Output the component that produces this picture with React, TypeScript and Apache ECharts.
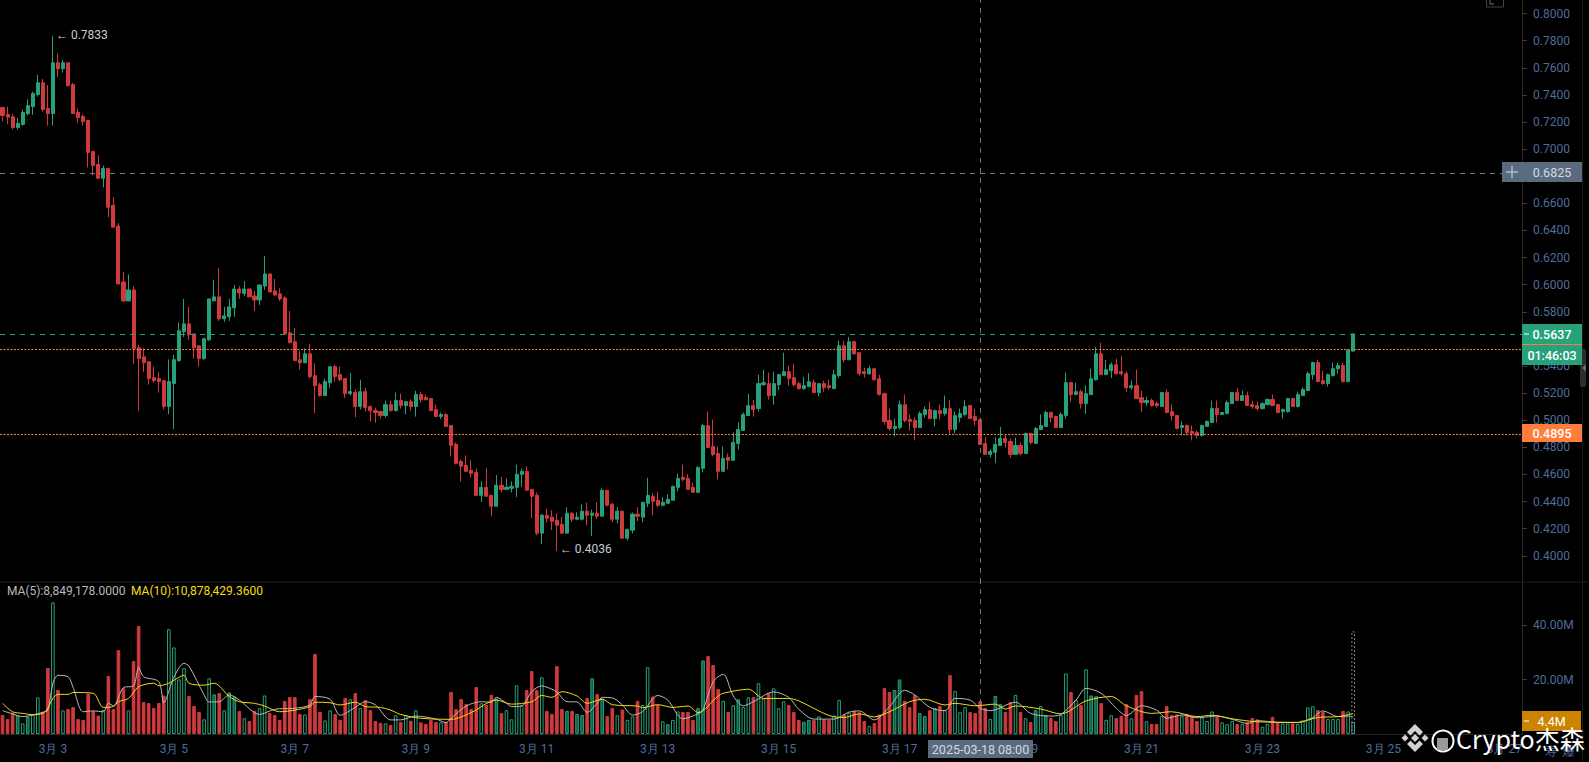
import React, { useEffect, useRef } from "react";
import * as echarts from "echarts";

// each row: open, close, high, low
const candleRows: number[][] = [
[.7307,.7248,.7307,.7204],[.7255,.7236,.7314,.7184],[.7238,.7160,.7260,.7145],[.7160,.7189,.7228,.7145],[.7182,.7270,.7292,.7174],
[.7262,.7321,.7368,.7248],[.7314,.7410,.7424,.7253],[.7402,.7490,.7549,.7387],[.7490,.7292,.7517,.7277],[.7299,.7262,.7473,.7174],
[.7262,.7637,.7833,.7174],[.7637,.7593,.7706,.7532],[.7593,.7637,.7657,.7564],[.7637,.7468,.7637,.7461],[.7476,.7262,.7488,.7262],
[.7270,.7233,.7299,.7196],[.7240,.7204,.7255,.7174],[.7211,.6976,.7216,.6865],[.6983,.6880,.6986,.6807],[.6887,.6785,.6954,.6785],
[.6785,.6858,.6880,.6718],[.6858,.6571,.6858,.6498],[.6586,.6424,.6645,.6424],[.6432,.6005,.6454,.6005],[.6020,.5880,.6093,.5873],
[.5880,.5961,.6076,.5880],[.5961,.5527,.5990,.5417],[.5535,.5454,.5557,.5071],[.5468,.5424,.5532,.5358],[.5432,.5307,.5432,.5262],
[.5314,.5292,.5395,.5277],[.5307,.5285,.5358,.5204],[.5292,.5101,.5292,.5079],[.5101,.5285,.5449,.5044],[.5270,.5447,.5483,.4934],
[.5439,.5660,.5721,.5432],[.5652,.5711,.5895,.5615],[.5711,.5630,.5836,.5593],[.5637,.5534,.5637,.5454],[.5549,.5454,.5549,.5395],
[.5454,.5601,.5608,.5446],[.5593,.5895,.5895,.5586],[.5880,.5910,.6037,.5880],[.5910,.5748,.6123,.5733],[.5748,.5770,.5836,.5726],
[.5763,.5836,.5895,.5733],[.5829,.5968,.5998,.5763],[.5968,.5939,.5990,.5895],[.5936,.5968,.6027,.5917],[.5968,.5910,.5968,.5910],
[.5917,.5887,.5954,.5807],[.5887,.5998,.5998,.5851],[.5990,.6079,.6213,.5961],[.6079,.5946,.6084,.5946],[.5954,.5924,.6042,.5917],
[.5932,.5895,.5973,.5880],[.5902,.5637,.5917,.5637],[.5645,.5571,.5806,.5571],[.5579,.5439,.5679,.5439],[.5446,.5424,.5513,.5373],
[.5424,.5490,.5532,.5424],[.5490,.5321,.5561,.5307],[.5329,.5255,.5419,.5052],[.5262,.5182,.5277,.5174],[.5182,.5285,.5307,.5182],
[.5277,.5395,.5395,.5238],[.5395,.5321,.5410,.5285],[.5336,.5299,.5395,.5285],[.5307,.5196,.5307,.5164],[.5196,.5211,.5348,.5182],
[.5204,.5101,.5226,.5022],[.5101,.5211,.5299,.5079],[.5211,.5093,.5240,.5064],[.5101,.5071,.5108,.4990],[.5071,.5057,.5093,.4981],
[.5064,.5035,.5071,.5013],[.5035,.5115,.5145,.5020],[.5115,.5071,.5145,.5064],[.5071,.5145,.5204,.5064],[.5145,.5108,.5196,.5086],
[.5108,.5137,.5137,.5044],[.5137,.5101,.5152,.5071],[.5101,.5189,.5218,.5027],[.5189,.5152,.5211,.5130],[.5167,.5152,.5189,.5145],
[.5160,.5071,.5160,.5071],[.5079,.5027,.5115,.5027],[.5027,.5042,.5057,.5008],[.5042,.4954,.5052,.4954],[.4961,.4814,.4961,.4733],
[.4821,.4682,.4836,.4674],[.4696,.4660,.4711,.4547],[.4667,.4623,.4740,.4623],[.4630,.4608,.4704,.4579],[.4615,.4446,.4645,.4439],
[.4446,.4505,.4549,.4397],[.4505,.4439,.4645,.4439],[.4446,.4365,.4446,.4292],[.4365,.4520,.4596,.4365],[.4520,.4490,.4581,.4468],
[.4490,.4505,.4571,.4490],[.4498,.4512,.4549,.4468],[.4505,.4601,.4672,.4434],[.4601,.4623,.4642,.4508],[.4623,.4483,.4660,.4483],
[.4490,.4439,.4490,.4277],[.4446,.4167,.4466,.4152],[.4167,.4299,.4307,.4086],[.4299,.4277,.4346,.4243],[.4285,.4255,.4336,.4189],
[.4262,.4226,.4314,.4036],[.4233,.4167,.4287,.4167],[.4167,.4314,.4358,.4167],[.4314,.4270,.4321,.4248],[.4270,.4285,.4321,.4262],
[.4270,.4329,.4380,.4262],[.4329,.4299,.4392,.4226],[.4299,.4314,.4341,.4147],[.4314,.4292,.4395,.4270],[.4292,.4483,.4498,.4292],
[.4483,.4373,.4483,.4365],[.4380,.4270,.4390,.4248],[.4270,.4329,.4360,.4240],[.4329,.4130,.4329,.4130],[.4130,.4196,.4196,.4113],
[.4189,.4307,.4319,.4167],[.4307,.4292,.4358,.4255],[.4285,.4395,.4395,.4248],[.4387,.4446,.4576,.4360],[.4439,.4402,.4461,.4299],
[.4410,.4373,.4468,.4360],[.4373,.4395,.4432,.4365],[.4387,.4417,.4454,.4387],[.4410,.4512,.4517,.4410],[.4505,.4571,.4606,.4476],
[.4579,.4564,.4672,.4549],[.4571,.4490,.4601,.4490],[.4505,.4468,.4539,.4468],[.4468,.4652,.4660,.4461],[.4645,.4961,.4973,.4615],
[.4961,.4799,.5064,.4799],[.4807,.4748,.5005,.4733],[.4755,.4623,.4807,.4564],[.4623,.4718,.4807,.4623],[.4726,.4704,.4755,.4637],
[.4704,.4836,.4910,.4704],[.4829,.4932,.4985,.4785],[.4924,.5042,.5057,.4924],[.5035,.5108,.5196,.5035],[.5108,.5079,.5150,.5027],
[.5086,.5270,.5336,.5064],[.5262,.5277,.5370,.5255],[.5270,.5182,.5351,.5152],[.5182,.5270,.5358,.5115],[.5262,.5336,.5343,.5223],
[.5329,.5358,.5498,.5329],[.5358,.5307,.5402,.5255],[.5314,.5262,.5417,.5248],[.5270,.5233,.5284,.5226],[.5233,.5255,.5321,.5226],
[.5248,.5284,.5348,.5248],[.5277,.5204,.5299,.5204],[.5204,.5270,.5270,.5177],[.5270,.5240,.5292,.5211],[.5255,.5240,.5299,.5226],
[.5233,.5336,.5373,.5233],[.5329,.5549,.5586,.5314],[.5549,.5446,.5586,.5424],[.5446,.5579,.5615,.5446],[.5579,.5490,.5586,.5483],
[.5498,.5343,.5498,.5329],[.5358,.5343,.5387,.5314],[.5343,.5380,.5402,.5336],[.5380,.5299,.5380,.5292],[.5306,.5189,.5336,.5182],
[.5196,.4990,.5204,.4968],[.4998,.4939,.5086,.4924],[.4939,.4954,.5012,.4880],[.4946,.5115,.5145,.4931],[.5115,.4998,.5189,.4983],
[.5005,.4990,.5042,.4924],[.4998,.4946,.5022,.4851],[.4946,.5049,.5064,.4946],[.5042,.5079,.5101,.5020],[.5079,.5012,.5137,.5012],
[.5012,.5071,.5079,.4954],[.5071,.5049,.5115,.5005],[.5049,.5086,.5182,.5034],[.5086,.4932,.5150,.4895],[.4932,.5034,.5064,.4902],
[.5020,.5049,.5086,.4983],[.5042,.5101,.5150,.5027],[.5108,.5012,.5115,.5012],[.5027,.4998,.5083,.4961],[.5005,.4821,.5005,.4821],
[.4829,.4748,.4875,.4748],[.4748,.4770,.4785,.4726],[.4763,.4821,.4873,.4684],[.4814,.4865,.4951,.4814],[.4865,.4836,.4890,.4799],
[.4843,.4748,.4865,.4723],[.4748,.4814,.4873,.4748],[.4814,.4755,.4836,.4740],[.4755,.4902,.4909,.4755],[.4902,.4836,.4902,.4821],
[.4829,.4939,.4949,.4829],[.4931,.4961,.5042,.4931],[.4954,.5057,.5071,.4954],[.5057,.5020,.5064,.4983],[.5027,.4946,.5034,.4946],
[.4946,.5042,.5057,.4946],[.5034,.5277,.5353,.5012],[.5277,.5189,.5284,.5137],[.5189,.5211,.5277,.5189],[.5211,.5123,.5226,.5086],
[.5123,.5196,.5255,.5047],[.5189,.5306,.5380,.5189],[.5299,.5490,.5542,.5292],[.5490,.5336,.5571,.5336],[.5336,.5373,.5446,.5336],
[.5365,.5409,.5427,.5311],[.5409,.5343,.5454,.5336],[.5358,.5343,.5476,.5329],[.5343,.5240,.5360,.5211],[.5240,.5255,.5294,.5226],
[.5255,.5159,.5373,.5159],[.5167,.5130,.5218,.5061],[.5130,.5145,.5174,.5108],[.5145,.5108,.5160,.5101],[.5123,.5108,.5138,.5094],
[.5101,.5204,.5204,.5101],[.5204,.5057,.5226,.5050],[.5064,.5035,.5116,.4998],[.5035,.4939,.5035,.4932],[.4947,.4961,.4991,.4888],
[.4961,.4910,.4969,.4888],[.4917,.4903,.4961,.4851],[.4910,.4888,.4925,.4866],[.4888,.4961,.4969,.4880],[.4954,.4991,.4998,.4954],
[.4983,.5086,.5145,.4983],[.5086,.5042,.5145,.4983],[.5042,.5057,.5057,.5042],[.5050,.5131,.5145,.5042],[.5123,.5204,.5204,.5123],
[.5204,.5145,.5236,.5145],[.5145,.5182,.5219,.5145],[.5182,.5108,.5211,.5108],[.5116,.5101,.5145,.5086],[.5108,.5086,.5138,.5072],
[.5086,.5123,.5131,.5079],[.5116,.5153,.5160,.5108],[.5153,.5108,.5189,.5108],[.5116,.5057,.5116,.5050],[.5064,.5079,.5086,.5013],
[.5064,.5160,.5160,.5057],[.5160,.5101,.5167,.5101],[.5101,.5189,.5211,.5094],[.5182,.5226,.5241,.5182],[.5219,.5344,.5358,.5219],
[.5336,.5425,.5432,.5300],[.5425,.5285,.5447,.5285],[.5292,.5270,.5366,.5263],[.5270,.5336,.5344,.5248],[.5329,.5380,.5425,.5322],
[.5380,.5403,.5425,.5344],[.5403,.5285,.5425,.5278],[.5285,.5518,.5518,.5285],[.5510,.5637,.5637,.5510],
];

// volume in millions, one per candle
const volumes: number[] = [
7.0,5.5,7.9,6.8,3.9,6.4,7.0,13.5,8.2,24.3,48.5,16.2,8.7,9.2,9.9,5.5,5.2,14.9,8.5,6.8,
8.8,21.4,9.2,30.9,16.9,8.7,26.9,39.8,11.8,11.4,9.6,11.4,14.2,38.6,31.9,20.1,24.2,14.0,10.3,8.1,
5.4,20.5,14.6,15.1,8.7,15.3,13.8,8.5,5.8,4.8,8.5,9.5,14.2,7.7,7.0,5.2,12.2,13.6,13.6,7.4,
7.2,12.9,29.5,8.1,5.0,8.7,7.4,5.2,13.3,12.8,15.1,9.6,12.5,8.8,4.8,4.1,3.9,3.3,6.9,4.5,
7.0,4.9,8.7,4.3,3.7,5.2,4.4,4.3,4.5,15.5,9.2,12.9,11.0,9.2,17.3,11.3,10.7,14.4,13.1,7.7,
8.7,5.4,17.9,10.7,16.2,23.2,16.2,20.9,8.5,7.4,25.0,9.2,8.5,8.5,7.4,7.0,13.3,20.5,14.7,13.1,
6.6,9.6,6.9,9.0,5.2,6.5,12.2,10.7,24.6,13.8,10.7,4.7,3.6,5.2,8.3,8.1,8.1,5.2,9.5,27.1,
28.7,25.4,16.6,12.2,8.1,10.6,12.8,9.9,13.5,13.6,18.7,13.1,15.0,16.8,9.5,12.0,10.7,8.1,5.2,4.5,
5.2,5.2,6.5,5.4,5.2,6.8,12.5,7.2,7.9,8.5,8.0,4.8,2.9,4.1,7.2,16.9,15.5,16.2,20.1,12.2,
9.9,14.4,7.7,6.6,8.8,9.5,10.3,8.8,21.7,15.8,8.0,9.9,8.1,7.7,12.2,9.6,5.5,14.0,11.0,8.1,
11.8,14.4,8.1,5.8,4.4,8.8,10.3,7.0,5.9,4.8,7.0,22.3,15.5,12.5,10.7,23.8,14.2,13.9,11.4,5.2,
6.9,5.9,6.6,11.0,5.8,14.4,15.8,4.7,3.7,3.7,6.6,10.3,7.0,7.2,6.6,7.4,6.6,4.8,6.1,4.8,
8.3,6.4,4.3,3.6,4.8,3.7,3.7,4.3,5.9,5.4,2.7,3.7,6.3,4.2,3.9,3.9,3.9,3.7,5.0,9.8,
10.2,8.8,8.1,5.5,5.5,5.5,8.5,8.3,4.4,
];

const estimatedVolume = 37.8;
const darkFilledBars = [3,5,42,45,46,98,112,114,115,117,119,132,138,139,146,159,160,177,178,182,183,185,197,198,205,207,216,217];

// [candle index, value in millions]
const ma5Points: number[][] = [
[0,8.6],[2,7.4],[4,6.4],[6,7.0],[8,8.0],[9,8.8],[10,18.7],[11,21.6],[13,21.1],[14,17.2],[16,8.2],[18,8.5],[20,8.2],[21,11.3],[22,10.4],[24,17.1],[26,17.7],[27,24.6],[28,21.1],[31,19.3],[32,11.5],[34,20.9],[36,26.0],[37,25.0],[40,14.4],[41,11.8],[43,11.9],[45,14.4],[47,12.5],[51,7.2],[54,9.1],[58,9.5],[61,10.7],[62,13.8],[65,12.8],[67,6.9],[70,9.8],[72,11.9],[74,10.7],[77,5.2],
[79,5.2],[82,6.6],[86,5.5],[88,4.2],[89,5.8],[92,10.3],[95,11.9],[97,11.7],[98,13.5],[100,11.3],[101,10.1],[103,10.3],[105,15.6],[107,17.7],[109,16.5],[110,15.5],[112,11.9],[114,11.8],[116,8.0],[118,11.3],[119,13.5],[121,13.3],[123,10.7],[125,7.0],[127,8.2],[130,14.2],[132,12.5],[135,5.6],[138,7.4],[139,8.8],[141,19.3],[143,22.0],[145,14.0],[147,10.4],[149,11.9],[153,15.5],[156,13.5],[158,9.1],
[161,5.5],[165,5.5],[168,8.1],[170,8.5],[173,5.2],[176,10.1],[179,16.1],[181,14.4],[184,9.8],[187,8.6],[189,13.1],[192,12.5],[194,9.5],[196,8.6],[201,11.7],[204,7.6],[208,6.6],[210,7.2],[213,12.5],[215,16.8],[218,15.0],[221,9.5],[223,6.8],[226,10.4],[229,8.8],[231,5.8],[234,7.0],[237,6.0],
[238,6.1],[241,6.6],[244,5.4],[247,3.9],[249,4.9],[253,4.3],[257,4.2],[260,6.1],[262,8.5],[265,6.4],[267,6.6],[268,6.4],
];
const ma10Points: number[][] = [
[0,11.3],[2,8.2],[4,7.6],[6,7.1],[8,7.6],[9,9.5],[10,13.1],[11,14.6],[13,14.6],[14,15.3],[18,15.0],[20,9.8],[22,10.1],[23,11.9],[25,13.1],[27,17.4],[30,18.7],[31,17.8],[33,18.7],[36,21.6],[37,18.7],[40,18.0],[42,18.7],[45,13.8],[47,11.9],[50,11.3],[52,10.3],[55,8.2],[58,8.8],[61,10.1],[62,11.7],[65,11.5],[67,10.7],[70,11.7],[72,10.1],[75,9.8],[77,8.8],
[79,7.2],[83,5.8],[89,5.4],[93,7.9],[98,12.5],[101,11.0],[105,11.9],[107,14.2],[109,13.5],[111,15.6],[114,14.0],[116,11.3],[119,12.8],[121,10.8],[126,10.3],[127,9.7],[130,10.8],[133,9.8],[136,10.3],[138,7.9],[142,14.0],[143,15.0],[148,16.5],[151,13.1],[156,13.1],[158,12.2],
[164,6.8],[167,6.1],[170,7.4],[173,6.3],[176,8.2],[180,11.9],[183,12.8],[187,10.7],[189,11.3],[193,10.4],[197,11.0],[199,9.2],[201,10.3],[206,9.2],[210,7.4],[215,12.2],[220,13.8],[223,10.4],[228,7.6],[232,8.2],[237,6.4],
[240,6.9],[244,5.6],[249,4.5],[257,4.3],[261,6.1],[265,6.4],[268,7.6],
];

const priceTicks = [0.40,0.42,0.44,0.46,0.48,0.50,0.52,0.54,0.56,0.58,0.60,0.62,0.64,0.66,0.68,0.70,0.72,0.74,0.76,0.78,0.80];
const volumeTicks = [20, 40];
const dateTickLabels = ["3月 3","3月 5","3月 7","3月 9","3月 11","3月 13","3月 15","3月 17","3月 19","3月 21","3月 23","3月 25","3月 27"];

const FIRST_TICK = 10;
const TICK_STEP = 24;
const SLOTS = 302;
const CROSS_INDEX = 194;
const CROSS_PRICE = 0.6825;
const LAST_PRICE = 0.5637;
const UPPER_ALERT = 0.552;
const LOWER_ALERT = 0.4895;

const GREEN = "#26a17b";
const RED = "#cf3a3d";
const ORANGE = "#ff7d3b";
const AXIS_TEXT = "#4f6c9c";
const GRID_LINE = "#262626";
const SLATE = "#5b6b7f";
const CROSS = "#6f7a8c";
const FONT = 'Roboto, "Liberation Sans", Arial, sans-serif';

const categories: string[] = Array.from({ length: SLOTS }, (_, i) =>
  new Date(Date.UTC(2025, 2, 2, 4) + i * 7200000).toISOString()
);

function tag(x: number, y: number, w: number, h: number, fill: string, text: string, color = "#fff", weight: any = 500) {
  return [
    { type: "rect", z: 100, shape: { x, y, width: w, height: h }, style: { fill } },
    {
      type: "text", z: 101, x: x + w / 2, y: y + h / 2,
      style: { text, fill: color, font: `${weight} 12.5px ${FONT}`, textAlign: "center", textVerticalAlign: "middle" },
    },
  ];
}

function chevrons(cx: number, cy: number) {
  const c = "#d2d2d2";
  const poly = (pts: number[][]) => ({
    type: "polygon", z: 110, shape: { points: pts.map(([a, b]) => [cx + a, cy + b]) }, style: { fill: c },
  });
  return [
    poly([[0,-14],[8,-6],[4.5,-2.5],[0,-7],[-4.5,-2.5],[-8,-6]]),
    poly([[0,14],[8,6],[4.5,2.5],[0,7],[-4.5,2.5],[-8,6]]),
    poly([[0,-4],[4,0],[0,4],[-4,0]]),
    poly([[-10,-3.5],[-6.5,0],[-10,3.5],[-13.5,0]]),
    poly([[10,-3.5],[13.5,0],[10,3.5],[6.5,0]]),
  ];
}

export default function App() {
  const ref = useRef<HTMLDivElement>(null);
  useEffect(() => {
    document.body.style.margin = "0";
    document.body.style.background = "#000";
    const chart = echarts.init(ref.current!, undefined, { renderer: "svg" });
    const volumeData = volumes.map((v, i) => {
      const r = candleRows[i];
      const up = r[1] >= r[0];
      return {
        value: v,
        itemStyle: up
          ? { color: darkFilledBars.includes(i) ? "#0f5c47" : "#000", borderColor: GREEN, borderWidth: 1 }
          : { color: RED, borderColor: RED, borderWidth: 1 },
      };
    });
    const option: any = {
      animation: false,
      backgroundColor: "#000",
      textStyle: { fontFamily: FONT },
      tooltip: { show: false },
      grid: [
        { left: 0, width: 1522, top: -1.9, height: 584.8 },
        { left: 0, width: 1522, top: 582, height: 152 },
      ],
      xAxis: [
        {
          type: "category", gridIndex: 0, data: categories, boundaryGap: true,
          axisLine: { show: false }, axisTick: { show: false }, axisLabel: { show: false }, splitLine: { show: false },
        },
        {
          type: "category", gridIndex: 1, data: categories, boundaryGap: true, offset: 4,
          axisLine: { show: true, lineStyle: { color: GRID_LINE } },
          axisTick: { show: false },
          splitLine: { show: false },
          axisLabel: {
            show: true, color: AXIS_TEXT, fontSize: 12, margin: 5, fontFamily: FONT, hideOverlap: false,
            interval: (i: number) => i >= FIRST_TICK && (i - FIRST_TICK) % TICK_STEP === 0,
            formatter: (_: string, i: number) => dateTickLabels[(i - FIRST_TICK) / TICK_STEP] ?? "",
          },
        },
      ],
      yAxis: [
        {
          type: "value", gridIndex: 0, position: "right", min: 0.38, max: 0.81, scale: true,
          splitLine: { show: false },
          axisLine: { show: true, onZero: false, lineStyle: { color: GRID_LINE } },
          axisTick: { show: true, length: 5, inside: false, customValues: priceTicks, lineStyle: { color: "#3a3a3a" } },
          axisLabel: {
            show: true, color: AXIS_TEXT, fontSize: 12, margin: 11, fontFamily: FONT,
            customValues: priceTicks, formatter: (v: number) => v.toFixed(4),
          },
        },
        {
          type: "value", gridIndex: 1, position: "right", min: 0, max: 56,
          splitLine: { show: false },
          axisLine: { show: true, onZero: false, lineStyle: { color: GRID_LINE } },
          axisTick: { show: true, length: 5, customValues: volumeTicks, lineStyle: { color: "#3a3a3a" } },
          axisLabel: {
            show: true, color: AXIS_TEXT, fontSize: 12, margin: 11, fontFamily: FONT,
            customValues: volumeTicks, formatter: (v: number) => v.toFixed(2) + "M",
          },
        },
      ],
      series: [
        {
          type: "candlestick", name: "price", xAxisIndex: 0, yAxisIndex: 0, barWidth: 3.6,
          data: candleRows.map(([o, c, h, l]) => [o, c, l, h]),
          itemStyle: { color: GREEN, color0: RED, borderColor: GREEN, borderColor0: RED, borderWidth: 1 },
          markLine: {
            silent: true, symbol: "none", animation: false, label: { show: false }, precision: 4,
            data: [
              { yAxis: CROSS_PRICE, lineStyle: { color: CROSS, type: [5, 5], width: 1 } },
              { yAxis: LAST_PRICE, lineStyle: { color: GREEN, type: [5, 5], width: 1 } },
              { yAxis: UPPER_ALERT, lineStyle: { color: ORANGE, type: [2, 1.5], width: 1 } },
              { yAxis: LOWER_ALERT, lineStyle: { color: ORANGE, type: [2, 1.5], width: 1 } },
              { xAxis: categories[CROSS_INDEX], lineStyle: { color: CROSS, type: [5, 5], width: 1 } },
            ],
          },
          markPoint: {
            silent: true, symbol: "circle", symbolSize: 0,
            label: { show: true, position: "right", distance: 3, offset: [0, -1.5], color: "#c5ccd6", fontSize: 12, fontFamily: FONT },
            data: [
              { coord: [categories[10], 0.7833], label: { formatter: "← 0.7833" } },
              { coord: [categories[110], 0.4036], label: { formatter: "← 0.4036" } },
            ],
          },
        },
        {
          type: "bar", name: "volume", xAxisIndex: 1, yAxisIndex: 1, barWidth: 3.6, barGap: "-100%", data: volumeData,
          markLine: {
            silent: true, symbol: "none", label: { show: false },
            data: [{ xAxis: categories[CROSS_INDEX], lineStyle: { color: CROSS, type: [5, 5], width: 1 } }],
          },
        },
        {
          type: "bar", name: "estimated", xAxisIndex: 1, yAxisIndex: 1, barWidth: 3.6, barGap: "-100%",
          data: volumes.map((_, i) => (i === volumes.length - 1 ? estimatedVolume : null)),
          itemStyle: { color: "rgba(0,0,0,0)", borderColor: "#8a8a8a", borderWidth: 1, borderType: [2, 2] },
        },
        {
          type: "line", name: "MA5", xAxisIndex: 1, yAxisIndex: 1, data: ma5Points, showSymbol: false, smooth: 0.3,
          lineStyle: { color: "#b9b9b9", width: 1 }, z: 5,
        },
        {
          type: "line", name: "MA10", xAxisIndex: 1, yAxisIndex: 1, data: ma10Points, showSymbol: false, smooth: 0.3,
          lineStyle: { color: "#f2dc14", width: 1 }, z: 6,
        },
      ],
      graphic: [
        { type: "line", z: 3, shape: { x1: 0, y1: 582, x2: 1589, y2: 582 }, style: { stroke: "#1e1e1e", lineWidth: 1 } },
        { type: "line", z: 3, shape: { x1: 1582.5, y1: 0, x2: 1582.5, y2: 762 }, style: { stroke: "#1c1c1c", lineWidth: 1 } },
        { type: "rect", z: 3, shape: { x: 1486.5, y: -3, width: 17, height: 10 }, style: { fill: "#000", stroke: "#3c4450", lineWidth: 1 } },
        { type: "polyline", z: 3, shape: { points: [[1490, 0], [1490, 4], [1494, 4]] }, style: { fill: "none", stroke: "#6a7382", lineWidth: 1 } },
        { type: "rect", z: 90, shape: { x: 1580, y: 349, width: 6, height: 38, r: 2 }, style: { fill: "#2b2d30" } },
        { type: "polygon", z: 91, shape: { points: [[1582.5, 368], [1585.5, 364.5], [1585.5, 371.5]] }, style: { fill: "#7a7f86" } },
        ...tag(1522, 324, 60, 20, GREEN, "0.5637"),
        { type: "rect", z: 100, shape: { x: 1522, y: 344, width: 60, height: 1.5 }, style: { fill: ORANGE } },
        ...tag(1522, 345, 60, 20, GREEN, "01:46:03"),
        ...tag(1522, 424, 60, 18, ORANGE, "0.4895"),
        ...tag(1522, 162, 60, 20, SLATE, "0.6825", "#d4d9e0", 400),
        { type: "rect", z: 100, shape: { x: 1502, y: 162, width: 20, height: 20 }, style: { fill: SLATE } },
        { type: "line", z: 101, shape: { x1: 1506, y1: 172, x2: 1518, y2: 172 }, style: { stroke: "#d4d9e0", lineWidth: 1 } },
        { type: "line", z: 101, shape: { x1: 1512, y1: 166, x2: 1512, y2: 178 }, style: { stroke: "#d4d9e0", lineWidth: 1 } },
        ...tag(928, 740, 105, 18, SLATE, "2025-03-18 08:00", "#d4d9e0", 400),
        ...tag(1522, 711, 59, 20, "#cc8400", "4.4M", "#fff", 400),
        { type: "line", z: 102, shape: { x1: 1524, y1: 721, x2: 1529, y2: 721 }, style: { stroke: "#fff", lineWidth: 1 } },
        { type: "line", z: 102, shape: { x1: 1524, y1: 334, x2: 1529, y2: 334 }, style: { stroke: "#fff", lineWidth: 1 } },
        { type: "text", z: 60, x: 7, y: 590.5, style: { text: "MA(5):8,849,178.0000", fill: "#b9b9b9", font: `12px ${FONT}`, textVerticalAlign: "middle" } },
        { type: "text", z: 60, x: 131, y: 590.5, style: { text: "MA(10):10,878,429.3600", fill: "#f2dc14", font: `12px ${FONT}`, textVerticalAlign: "middle" } },
        { type: "text", z: 60, x: 1545, y: 750, style: { text: "寿  爆", fill: AXIS_TEXT, font: `12px "Noto Sans CJK SC"`, textVerticalAlign: "middle" } },
        ...chevrons(1415, 738),
        { type: "circle", z: 110, shape: { cx: 1443, cy: 741, r: 10.5 }, style: { fill: "#000", stroke: "#fff", lineWidth: 2 } },
        { type: "rect", z: 111, shape: { x: 1437, y: 738, width: 11, height: 12 }, style: { fill: "#9a9a9a" } },
        { type: "text", z: 110, x: 1456, y: 738, style: { text: "Crypto杰森", fill: "#fff", font: `25px "Noto Sans CJK SC"`, textVerticalAlign: "middle" } },
      ],
    };
    chart.setOption(option);
    return () => chart.dispose();
  }, []);
  return <div ref={ref} style={{ width: 1589, height: 762, background: "#000", overflow: "hidden" }} />;
}
